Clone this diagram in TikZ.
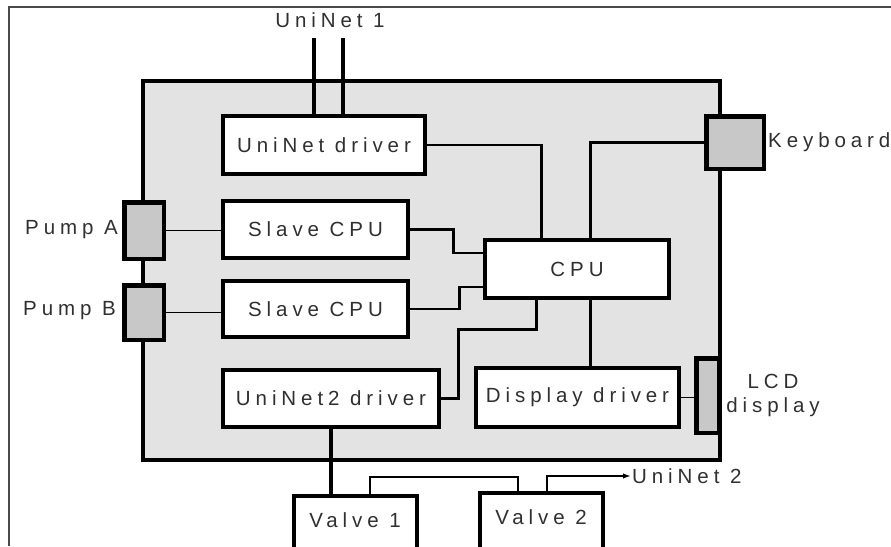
\documentclass[tikz,border=0pt]{standalone}
\usepackage{fontspec}
\setmainfont{Liberation Sans}[LetterSpace=24]
\usetikzlibrary{arrows.meta}

\definecolor{boardfill}{HTML}{E3E3E3}
\definecolor{portfill}{HTML}{C8C8C8}
\definecolor{inkgray}{HTML}{303030}
\definecolor{framegray}{HTML}{4A4A4A}

\tikzset{
  txt/.style={font=\fontsize{20.5}{24}\selectfont, text=inkgray},
  unit/.style={txt, draw=black, fill=white, line width=2.8pt, inner sep=0pt},
  port/.style={draw=black, fill=portfill, line width=3pt, inner sep=0pt},
  lbl/.style={txt, inner sep=1pt},
  thin/.style={draw=black, line width=1.8pt},
  wire/.style={draw=black, line width=2.7pt},
  bus/.style={draw=black, line width=3.5pt},
}

\begin{document}
\begin{tikzpicture}[x=1pt, y=-1pt]
\useasboundingbox (0,0) rectangle (891,546);

% outer page frame (top and left edges only)
\draw[framegray, line width=1.8pt] (891,7) -- (9,7) -- (9,546);

% controller board
\draw[fill=boardfill, line width=4pt] (143,81) rectangle (720,460);

% units on the board
\node[unit, minimum width=200, minimum height=56] (ud)  at (324,145)   {UniNet driver};
\node[unit, minimum width=183, minimum height=55] (s1)  at (315.5,229.5) {Slave CPU};
\node[unit, minimum width=183, minimum height=54] (s2)  at (315.5,309)  {Slave CPU};
\node[unit, minimum width=214, minimum height=55] (u2)  at (331,398.5)  {UniNet2 driver};
\node[unit, minimum width=182, minimum height=56] (cpu) at (577,269)    {CPU};
\node[unit, minimum width=201, minimum height=57] (dd)  at (577.5,397.5) {Display driver};

% ports on the board edge
\node[port, minimum width=38, minimum height=55] (pa)  at (144,230.5) {};
\node[port, minimum width=38, minimum height=53] (pb)  at (144,312.5) {};
\node[port, minimum width=56, minimum height=51] (kb)  at (735,142.5) {};
\node[port, minimum width=21, minimum height=73] (lcd) at (707.5,395.5) {};

% valves below the board
\node[unit, minimum width=122, minimum height=54, anchor=north west] (v1) at (293,495) {};
\node[txt] at (355,520) {Valve 1};
\node[unit, minimum width=122, minimum height=56, anchor=north west] (v2) at (479,492) {};
\node[txt] at (541,517) {Valve 2};

% external labels
\node[lbl] (un1) at (330,20) {UniNet 1};
\node[lbl, anchor=east] (lpa) at (119,230) {Pump A};
\node[lbl, anchor=east] (lpb) at (117,311) {Pump B};
\node[lbl, anchor=west] (lkb) at (767,142) {Keyboard};
\node[lbl, align=center] (llcd) at (773,395) {LCD\\display};
\node[lbl, anchor=west] (un2) at (631,476) {UniNet 2};

% UniNet 1 bus into its driver
\coordinate (n1a) at (314,38);
\coordinate (n1b) at (343,38);
\draw[bus] (n1a) -- (n1a |- ud.north);
\draw[bus] (n1b) -- (n1b |- ud.north);

% links to the CPU
\draw[wire] (ud.east) -| ([xshift=57pt]cpu.north west);
\draw[wire] (kb.west) -| ([xshift=106pt]cpu.north west);
\draw[wire] (s1.east) -- ++(45,0) |- ([yshift=16pt]cpu.west);
\draw[wire] (s2.east) -- ++(51,0) |- ([yshift=-18pt]cpu.west);
\draw[wire] (u2.east) -- ++(19,0) |- ([xshift=52pt,yshift=-31pt]cpu.south west)
                      -- ([xshift=52pt]cpu.south west);
\draw[wire] ([xshift=106pt]cpu.south west) -- ([xshift=106pt]cpu.south west |- dd.north);

% pumps and display
\draw[thin] (pa.east) -- (pa.east -| s1.west);
\draw[thin] (pb.east) -- (pb.east -| s2.west);
\draw[thin] (dd.east) -- (dd.east -| lcd.west);

% UniNet 2 chain through the valves
\draw[bus] (u2.south) -- (u2.south |- v1.north);
\draw[wire] ([xshift=77pt]v1.north west) -- ++(0,-18) -| ([xshift=39pt]v2.north west);
\draw[thin, -{Latex[length=8pt,width=5.5pt]}] ([xshift=68pt]v2.north west) |- (un2.west);

% redraw unit borders over the wire ends
\foreach \n in {ud,s1,s2,u2,cpu,dd,v1,v2}{\draw[line width=2.8pt] (\n.north west) rectangle (\n.south east);}
\foreach \n in {pa,pb,kb,lcd}{\draw[line width=3pt] (\n.north west) rectangle (\n.south east);}
\end{tikzpicture}
\end{document}
